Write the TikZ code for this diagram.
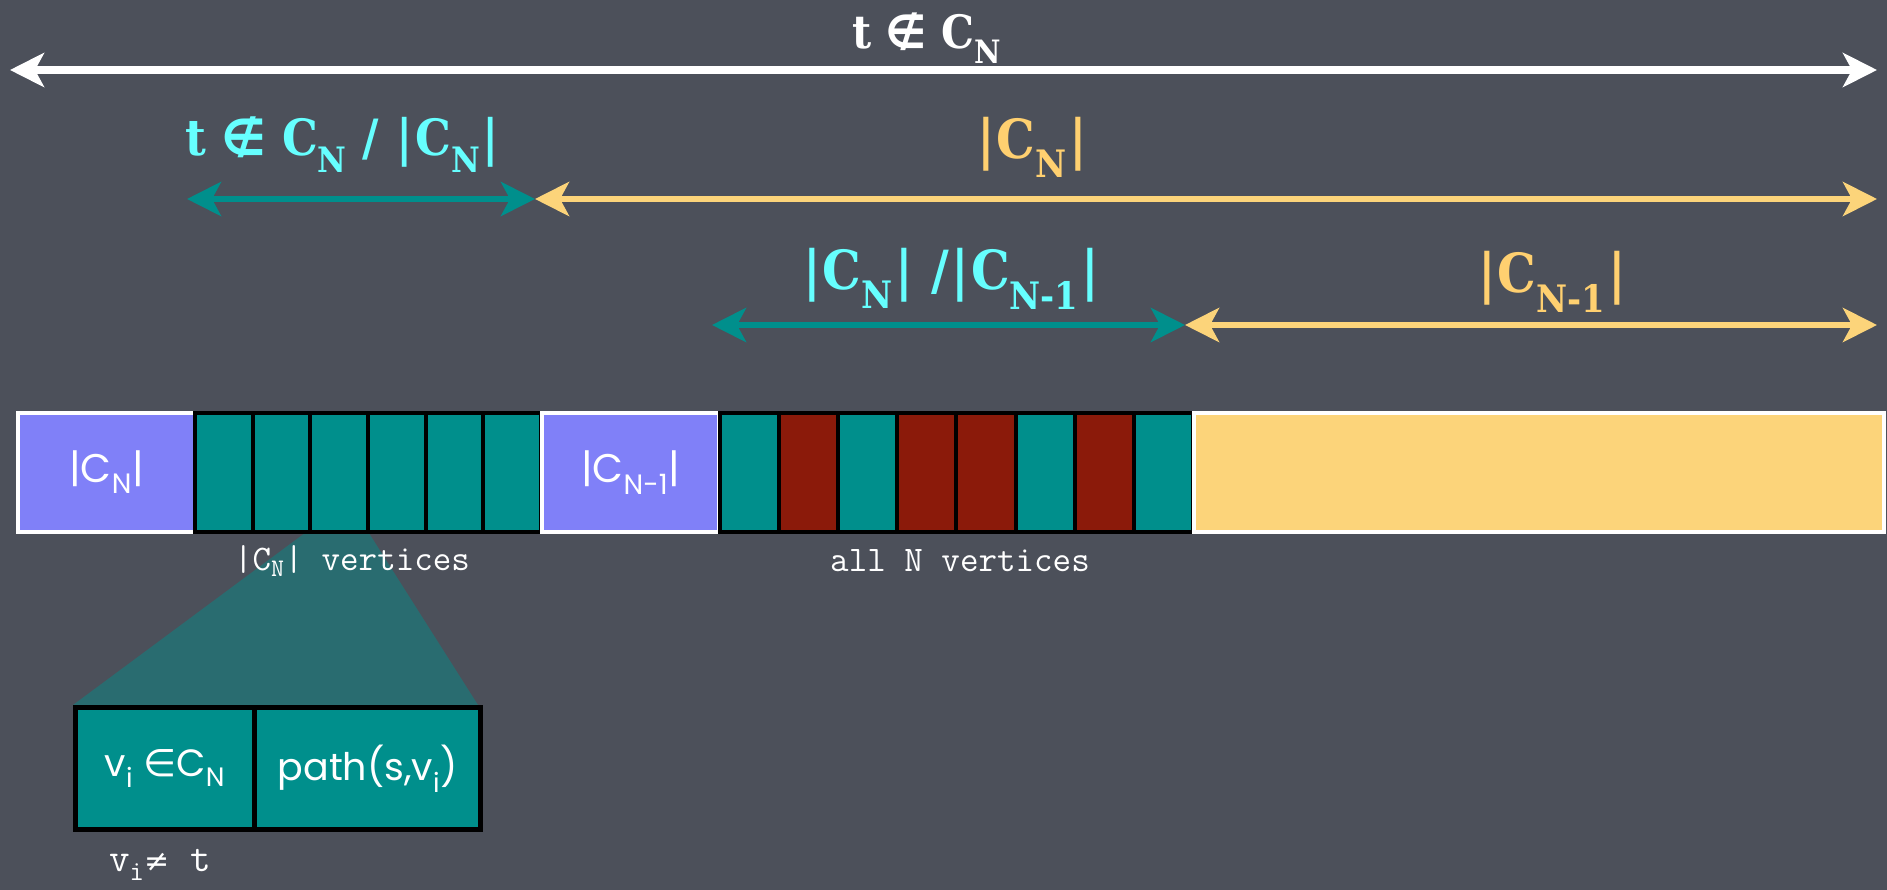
\documentclass[tikz,border=0pt]{standalone}
\usepackage{fontspec}
\usetikzlibrary{arrows.meta}
\newfontfamily\slab{DejaVu Serif Condensed}
\newfontfamily\symf{DejaVu Sans}
\newfontfamily\comic{Poppins}
\newcommand\sbs[1]{\textsubscript{#1}}
\newcommand\vb{\kern2pt|\kern2pt}
\definecolor{bg}{RGB}{76,80,90}
\definecolor{tealc}{RGB}{0,143,140}
\definecolor{redc}{RGB}{139,26,10}
\definecolor{purc}{RGB}{128,128,248}
\definecolor{yelc}{RGB}{252,212,122}
\definecolor{cyanl}{RGB}{102,255,255}
\definecolor{yell}{RGB}{255,208,112}
\tikzset{
  dbl/.style={{Stealth[length=34pt,width=34pt,inset=9pt]}-{Stealth[length=34pt,width=34pt,inset=9pt]}, line width=6pt},
  biglbl/.style={font=\slab\bfseries\fontsize{54}{60}\selectfont, inner sep=0pt},
  cell/.style={draw=black, line width=4pt, minimum height=119pt, inner sep=0pt, anchor=north west},
  tcell/.style={cell, fill=tealc, minimum width=#1},
  rcell/.style={cell, fill=redc, minimum width=#1},
  pbox/.style={draw=white, line width=4pt, fill=purc, minimum height=119pt, inner sep=0pt, anchor=north west, minimum width=#1, text=white, font=\comic\fontsize{40}{44}\selectfont},
  ybox/.style={draw=white, line width=4pt, fill=yelc, minimum height=119pt, inner sep=0pt, anchor=north west, minimum width=#1},
  ttlbl/.style={text=white, font=\ttfamily\fontsize{36}{40}\selectfont, inner sep=0pt},
  dcell/.style={draw=black, line width=5pt, fill=tealc, minimum height=122pt, inner sep=0pt, anchor=north west, minimum width=#1, text=white, font=\comic\fontsize{38}{42}\selectfont}
}
\begin{document}
\begin{tikzpicture}[x=1pt,y=-1pt]
\useasboundingbox (0,0) rectangle (1887,890);
\fill[bg] (0,0) rectangle (1887,890);

% arrows
\coordinate (a1l) at (10,70);  \coordinate (a1r) at (1877,70);
\coordinate (a2l) at (187,199); \coordinate (a2m) at (535,199); \coordinate (a2r) at (1877,199);
\coordinate (a3l) at (712,325); \coordinate (a3m) at (1185,325); \coordinate (a3r) at (1877,325);
\draw[dbl, white, line width=8pt] (a1l) -- (a1r);
\draw[dbl, yelc] (a2m) -- (a2r);
\draw[dbl, tealc] (a2l) -- (a2m);
\draw[dbl, yelc] (a3m) -- (a3r);
\draw[dbl, tealc] (a3l) -- (a3m);

\node[biglbl, text=white, font=\slab\bfseries\fontsize{46}{50}\selectfont] (l1) at (927,38) {t {\symf ∉} C\sbs{N}};
\node[biglbl, text=cyanl, font=\slab\bfseries\fontsize{50}{56}\selectfont] (l2) at (343,145) {t {\symf ∉} C\sbs{N} / \vb C\sbs{N}\vb};
\node[biglbl, text=yell] (l3) at (1032,147) {\vb C\sbs{N}\vb};
\node[biglbl, text=cyanl] (l4) at (951,279) {\vb C\sbs{N}\vb\ /\vb C\sbs{N-1}\vb};
\node[biglbl, text=yell] (l5) at (1552,282) {\vb C\sbs{N-1}\vb};

% zoom trapezoid
\fill[tealc, opacity=0.45] (309,530) -- (367,530) -- (478,705) -- (73,705) -- cycle;

% bar
\node[pbox=177pt] (p1) at (16,411) {|C\sbs{N}|};
\foreach \i in {0,...,5} {
  \node[tcell=57.67pt] (c\i) at ({193+57.67*\i},411) {};
}
\node[pbox=177pt] (p2) at (540,411) {|C\sbs{N-1}|};
\foreach \i/\c in {0/tcell,1/rcell,2/tcell,3/rcell,4/rcell,5/tcell,6/rcell,7/tcell} {
  \node[\c=59.1pt] (d\i) at ({718+59.1*\i},411) {};
}
\node[ybox=690pt] (yb) at (1192,411) {};

\node[ttlbl] (t1) at (352,561) {|C\sbs{N}| vertices};
\node[ttlbl] (t2) at (960,561) {all N vertices};

% detail
\node[dcell=179pt] (e1) at (73,705) {v\sbs{i} {\symf ∈}C\sbs{N}};
\node[dcell=226pt] (e2) at (252,705) {path(s,v\sbs{i})};
\node[ttlbl, font=\ttfamily\fontsize{40}{44}\selectfont] (t3) at (160,865) {v\sbs{i}{\symf\fontsize{30}{32}\selectfont ≠} t};
\end{tikzpicture}
\end{document}
